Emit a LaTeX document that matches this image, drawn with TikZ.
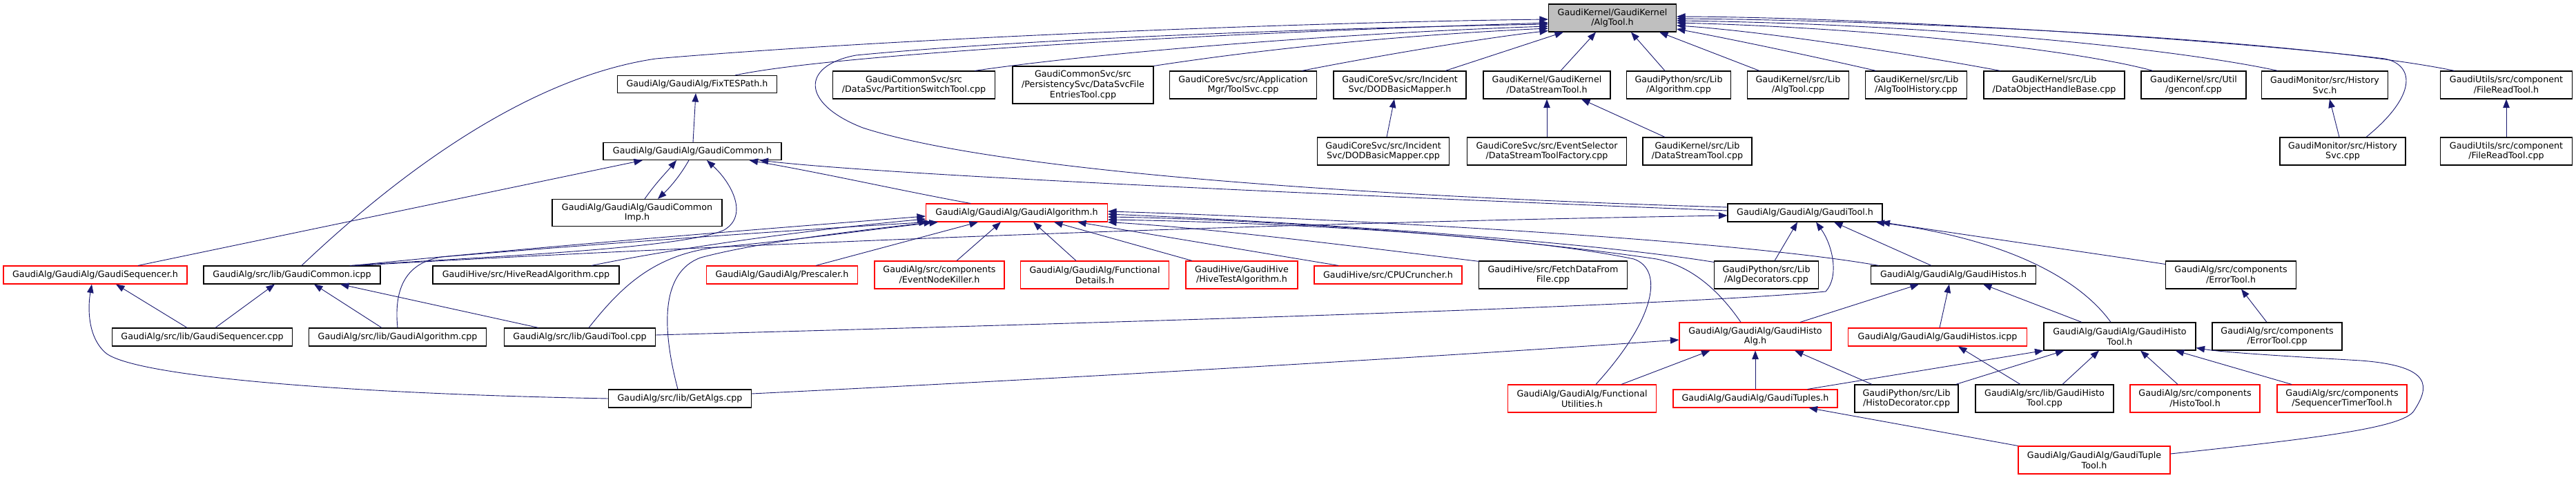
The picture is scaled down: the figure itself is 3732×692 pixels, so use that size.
\documentclass[tikz,border=0pt]{standalone}
\usepackage{fontspec}
\setmainfont{DejaVu Sans}
\usetikzlibrary{arrows.meta,calc}
\definecolor{eb}{HTML}{191970}
\definecolor{rootfill}{HTML}{BFBFBF}
\newcommand{\dgfont}{\fontsize{12.7}{14.7}\selectfont}
\begin{document}
\begin{tikzpicture}[x=1pt,y=-1pt,
 box/.style={draw=black,line width=1.1pt,fill=white,inner sep=0pt,align=center,font=\dgfont,minimum height=26pt},
 rbox/.style={box,draw=red},
 tall/.style={minimum height=40pt},
 e/.style={draw=eb,line width=0.9pt,-{Triangle[length=12.5pt,width=9.5pt]}}]
\useasboundingbox (0,0) rectangle (3732,692);
% ---------- nodes ----------
\node[box,tall,minimum width=185pt,fill=rootfill] (root) at (2336,26) {GaudiKernel/GaudiKernel\\/AlgTool.h};
% row 2
\node[box,minimum width=231pt,minimum height=25pt] (fix) at (1010,122) {GaudiAlg/GaudiAlg/FixTESPath.h};
\node[box,tall,minimum width=235pt] (pst) at (1324,123) {GaudiCommonSvc/src\\/DataSvc/PartitionSwitchTool.cpp};
\node[box,minimum width=204pt,minimum height=54pt] (dsfe) at (1569,123) {GaudiCommonSvc/src\\/PersistencySvc/DataSvcFile\\EntriesTool.cpp};
\node[box,tall,minimum width=213pt] (toolsvc) at (1801,123) {GaudiCoreSvc/src/Application\\Mgr/ToolSvc.cpp};
\node[box,tall,minimum width=192pt] (dodh) at (2028,123) {GaudiCoreSvc/src/Incident\\Svc/DODBasicMapper.h};
\node[box,tall,minimum width=184pt] (dsth) at (2241,123) {GaudiKernel/GaudiKernel\\/DataStreamTool.h};
\node[box,tall,minimum width=151pt] (algcpp) at (2432,123) {GaudiPython/src/Lib\\/Algorithm.cpp};
\node[box,tall,minimum width=147pt] (algtoolcpp) at (2605,123) {GaudiKernel/src/Lib\\/AlgTool.cpp};
\node[box,tall,minimum width=147pt] (athist) at (2776,123) {GaudiKernel/src/Lib\\/AlgToolHistory.cpp};
\node[box,tall,minimum width=204pt] (dohb) at (2976,123) {GaudiKernel/src/Lib\\/DataObjectHandleBase.cpp};
\node[box,tall,minimum width=152pt] (genconf) at (3178,123) {GaudiKernel/src/Util\\/genconf.cpp};
\node[box,tall,minimum width=183pt] (hsh) at (3368,123) {GaudiMonitor/src/History\\Svc.h};
\node[box,tall,minimum width=191pt] (frth) at (3631,123) {GaudiUtils/src/component\\/FileReadTool.h};
% row 3
\node[box,minimum width=258pt,minimum height=25pt] (gch) at (1003,219) {GaudiAlg/GaudiAlg/GaudiCommon.h};
\node[box,tall,minimum width=191pt] (dodcpp) at (2004,219) {GaudiCoreSvc/src/Incident\\Svc/DODBasicMapper.cpp};
\node[box,tall,minimum width=231pt] (dstf) at (2241,219) {GaudiCoreSvc/src/EventSelector\\/DataStreamToolFactory.cpp};
\node[box,tall,minimum width=158pt] (dstcpp) at (2459,219) {GaudiKernel/src/Lib\\/DataStreamTool.cpp};
\node[box,tall,minimum width=182pt] (hscpp) at (3394,219) {GaudiMonitor/src/History\\Svc.cpp};
\node[box,tall,minimum width=191pt] (frtcpp) at (3631,219) {GaudiUtils/src/component\\/FileReadTool.cpp};
% row 4
\node[box,minimum width=246pt,minimum height=39pt] (gcimp) at (923,308) {GaudiAlg/GaudiAlg/GaudiCommon\\Imp.h};
\node[rbox,minimum width=263pt] (galgh) at (1473,308) {GaudiAlg/GaudiAlg/GaudiAlgorithm.h};
\node[box,minimum width=224pt] (gtoolh) at (2615,308) {GaudiAlg/GaudiAlg/GaudiTool.h};
% row 5
\node[rbox,minimum width=266pt] (gseqh) at (138,398) {GaudiAlg/GaudiAlg/GaudiSequencer.h};
\node[box,minimum width=256pt] (gcicpp) at (423,398) {GaudiAlg/src/lib/GaudiCommon.icpp};
\node[box,minimum width=270pt] (hiveread) at (762,398) {GaudiHive/src/HiveReadAlgorithm.cpp};
\node[rbox,minimum width=219pt] (prescaler) at (1133,398) {GaudiAlg/GaudiAlg/Prescaler.h};
\node[rbox,tall,minimum width=188pt] (enk) at (1361,398) {GaudiAlg/src/components\\/EventNodeKiller.h};
\node[rbox,tall,minimum width=215pt] (fdet) at (1586,398) {GaudiAlg/GaudiAlg/Functional\\Details.h};
\node[rbox,tall,minimum width=162pt] (hivetest) at (1799,398) {GaudiHive/GaudiHive\\/HiveTestAlgorithm.h};
\node[rbox,minimum width=214pt] (cpu) at (2011,398) {GaudiHive/src/CPUCruncher.h};
\node[box,tall,minimum width=215pt] (fetch) at (2250,398) {GaudiHive/src/FetchDataFrom\\File.cpp};
\node[box,tall,minimum width=151pt] (algdec) at (2559,398) {GaudiPython/src/Lib\\/AlgDecorators.cpp};
\node[box,minimum width=239pt] (ghistosh) at (2830,398) {GaudiAlg/GaudiAlg/GaudiHistos.h};
\node[box,tall,minimum width=189pt] (errh) at (3232,398) {GaudiAlg/src/components\\/ErrorTool.h};
% row 6
\node[box,minimum width=261pt] (gseqcpp) at (293,488) {GaudiAlg/src/lib/GaudiSequencer.cpp};
\node[box,minimum width=257pt] (galgcpp) at (576,488) {GaudiAlg/src/lib/GaudiAlgorithm.cpp};
\node[box,minimum width=219pt] (gtoolcpp) at (840,488) {GaudiAlg/src/lib/GaudiTool.cpp};
\node[rbox,tall,minimum width=220pt] (ghistoalg) at (2543,487) {GaudiAlg/GaudiAlg/GaudiHisto\\Alg.h};
\node[rbox,minimum width=259pt] (ghistosicpp) at (2807,488) {GaudiAlg/GaudiAlg/GaudiHistos.icpp};
\node[box,tall,minimum width=220pt] (ghistotoolh) at (3071,487) {GaudiAlg/GaudiAlg/GaudiHisto\\Tool.h};
\node[box,tall,minimum width=188pt] (errcpp) at (3299,487) {GaudiAlg/src/components\\/ErrorTool.cpp};
% row 7
\node[box,minimum width=207pt] (getalgs) at (985,577) {GaudiAlg/src/lib/GetAlgs.cpp};
\node[rbox,tall,minimum width=215pt] (futil) at (2292,577) {GaudiAlg/GaudiAlg/Functional\\Utilities.h};
\node[rbox,minimum width=238pt] (gtuples) at (2543,577) {GaudiAlg/GaudiAlg/GaudiTuples.h};
\node[box,tall,minimum width=150pt] (histodec) at (2762,577) {GaudiPython/src/Lib\\/HistoDecorator.cpp};
\node[box,tall,minimum width=200pt] (ghtcpp) at (2962,577) {GaudiAlg/src/lib/GaudiHisto\\Tool.cpp};
\node[rbox,tall,minimum width=188pt] (histotool) at (3180,577) {GaudiAlg/src/components\\/HistoTool.h};
\node[rbox,tall,minimum width=188pt] (seqtimer) at (3393,577) {GaudiAlg/src/components\\/SequencerTimerTool.h};
% row 8
\node[rbox,tall,minimum width=220pt] (gtupletool) at (3034,666) {GaudiAlg/GaudiAlg/GaudiTuple\\Tool.h};
% ---------- edges into root ----------
\draw[e] ($(gcicpp.north)+(14,0)$) .. controls (600,230) and (780,110) .. (950,85) .. controls (1300,55) and (1900,32) .. ($(root.west)+(0,2)$);
\draw[e] ($(fix.north)+(55,0)$) .. controls (1200,80) and (1700,50) .. ($(root.west)+(0,7)$);
\draw[e] ($(gtoolh.west)+(0,-8)$) .. controls (2000,285) and (1450,250) .. (1250,185) .. controls (1160,150) and (1160,95) .. (1240,80) .. controls (1500,55) and (1950,40) .. ($(root.west)+(0,9)$);
\draw[e] ($(pst.north)+(88,0)$) .. controls (1600,75) and (1950,48) .. ($(root.west)+(0,12)$);
\draw[e] (dsfe.north east) .. controls (1850,68) and (2050,50) .. ($(root.west)+(0,15)$);
\draw[e] ($(toolsvc.north)+(85,0)$) .. controls (2000,80) and (2150,55) .. ($(root.south west)+(0,-2)$);
\draw[e] ($(dodh.north)+(66,0)$) -- ($(root.south west)+(22,0)$);
\draw[e] ($(dsth.north)+(20,0)$) -- ($(root.south)+(-24,0)$);
\draw[e] ($(algcpp.north)+(-20,0)$) -- ($(root.south)+(27,0)$);
\draw[e] ($(algtoolcpp.north)+(-56,0)$) -- ($(root.south east)+(-25,0)$);
\draw[e] ($(athist.north)+(-58,0)$) .. controls (2620,80) and (2500,55) .. ($(root.east)+(0,16)$);
\draw[e] ($(dohb.north)+(-78,0)$) .. controls (2750,75) and (2550,45) .. ($(root.east)+(0,11)$);
\draw[e] ($(genconf.north)+(-59,0)$) .. controls (3000,70) and (2700,40) .. ($(root.east)+(0,7)$);
\draw[e] ($(hsh.north)+(-68,0)$) .. controls (3150,70) and (2800,35) .. ($(root.east)+(0,4)$);
\draw[e] ($(frth.north)+(-75,0)$) .. controls (3350,60) and (2800,30) .. ($(root.east)+(0,1)$);
\draw[e] ($(hscpp.north)+(34,0)$) .. controls (3500,140) and (3500,95) .. (3455,85) .. controls (3200,55) and (2700,25) .. ($(root.east)+(0,-2)$);
% ---------- row 3 -> row 2 ----------
\draw[e] ($(dodcpp.north)+(5,0)$) -- ($(dodh.south)+(-8,0)$);
\draw[e] (dstf.north) -- (dsth.south);
\draw[e] ($(dstcpp.north)+(-47,0)$) -- ($(dsth.south)+(50,0)$);
\draw[e] ($(hscpp.north)+(-5,0)$) -- ($(hsh.south)+(7,0)$);
\draw[e] (frtcpp.north) -- (frth.south);
% ---------- GaudiCommon ----------
\draw[e] ($(gch.north)+(1,0)$) -- ($(fix.south)+(-2,0)$);
\draw[e] ($(gcimp.north)+(11,0)$) .. controls (950,265) and (965,250) .. ($(gch.south)+(-23,0)$);
\draw[e] ($(gch.south)+(-5,0)$) .. controls (985,255) and (970,272) .. ($(gcimp.north)+(30,0)$);
\draw[e] ($(gseqh.north)+(62,0)$) -- ($(gch.south)+(-72,0)$);
\draw[e] ($(galgh.north)+(-67,0)$) .. controls (1300,275) and (1200,252) .. ($(gch.south east)+(-47,0)$);
\draw[e] ($(gtoolh.west)+(0,-3)$) .. controls (2000,285) and (1300,255) .. ($(gch.south east)+(-32,0)$);
\draw[e] ($(gcicpp.north east)+(-45,0)$) .. controls (700,372) and (990,360) .. (1049,333) .. controls (1085,312) and (1060,265) .. ($(gch.south)+(21,0)$);
% ---------- into GaudiAlgorithm.h ----------
\draw[e] ($(gcicpp.north east)+(-40,0)$) .. controls (800,355) and (1150,328) .. ($(galgh.west)+(0,5)$);
\draw[e] ($(hiveread.north)+(95,0)$) .. controls (1000,355) and (1200,330) .. ($(galgh.west)+(0,9)$);
\draw[e] (galgcpp.north) .. controls (570,415) and (590,380) .. (640,372) .. controls (900,350) and (1200,330) .. ($(galgh.south west)+(3,0)$);
\draw[e] ($(getalgs.north)+(-3,0)$) .. controls (960,480) and (955,395) .. (1015,373) .. controls (1100,350) and (1250,333) .. ($(galgh.south west)+(10,0)$);
\draw[e] ($(gtoolcpp.north)+(13,0)$) .. controls (900,415) and (950,365) .. (1049,357) .. controls (1150,348) and (1280,330) .. ($(galgh.south west)+(18,0)$);
\draw[e] ($(prescaler.north)+(49,0)$) -- ($(galgh.south west)+(76,0)$);
\draw[e] ($(enk.north)+(25,0)$) -- ($(galgh.south west)+(109,0)$);
\draw[e] ($(fdet.north)+(-27,0)$) -- ($(galgh.south)+(24,0)$);
\draw[e] ($(hivetest.north)+(-72,0)$) -- ($(galgh.south)+(54,0)$);
\draw[e] ($(cpu.north)+(-72,0)$) -- ($(galgh.south east)+(-44,0)$);
\draw[e] ($(fetch.north west)+(1,1)$) .. controls (1950,355) and (1750,330) .. (galgh.south east);
\draw[e] ($(futil.north)+(20,0)$) .. controls (2400,460) and (2410,390) .. (2367,375) .. controls (2200,340) and (1850,322) .. ($(galgh.east)+(0,10)$);
\draw[e] ($(ghistoalg.north)+(-21,0)$) .. controls (2490,420) and (2450,385) .. (2400,375) .. controls (2200,345) and (1850,318) .. ($(galgh.east)+(0,6)$);
\draw[e] ($(algdec.north west)+(0,2)$) .. controls (2300,350) and (1900,322) .. ($(galgh.east)+(0,2)$);
\draw[e] ($(ghistosh.north west)+(12,0)$) .. controls (2500,345) and (1900,315) .. ($(galgh.east)+(0,-2)$);
% ---------- into GaudiTool.h ----------
\draw[e] ($(gcicpp.north east)+(-35,0)$) .. controls (900,362) and (1700,325) .. ($(gtoolh.west)+(0,4)$);
\draw[e] ($(algdec.north)+(12,0)$) -- ($(gtoolh.south)+(-11,0)$);
\draw[e] ($(gtoolcpp.east)+(0,-3)$) .. controls (1500,470) and (2400,445) .. (2645,422) .. controls (2665,400) and (2655,355) .. ($(gtoolh.south)+(16,0)$);
\draw[e] ($(ghistosh.north)+(-32,0)$) -- ($(gtoolh.south)+(42,0)$);
\draw[e] ($(ghistotoolh.north)+(-13,0)$) .. controls (3010,400) and (2900,345) .. ($(gtoolh.south east)+(-10,0)$);
\draw[e] ($(errh.north west)+(0,5)$) .. controls (3000,362) and (2800,333) .. ($(gtoolh.south east)+(-2,0)$);
% ---------- GaudiSequencer.h / GaudiCommon.icpp ----------
\draw[e] ($(gseqcpp.north)+(-22,0)$) -- ($(gseqh.south)+(30,0)$);
\draw[e] (getalgs.west) .. controls (500,570) and (190,545) .. (152,510) .. controls (125,485) and (128,440) .. ($(gseqh.south)+(-5,0)$);
\draw[e] ($(gseqcpp.north)+(19,0)$) -- ($(gcicpp.south)+(-25,0)$);
\draw[e] ($(galgcpp.north)+(-23,0)$) -- ($(gcicpp.south)+(32,0)$);
\draw[e] ($(gtoolcpp.north)+(-60,0)$) -- ($(gcicpp.south)+(70,0)$);
% ---------- histo family ----------
\draw[e] ($(getalgs.east)+(0,-7)$) .. controls (1600,545) and (2100,515) .. ($(ghistoalg.west)+(0,5)$);
\draw[e] ($(futil.north)+(57,0)$) -- ($(ghistoalg.south west)+(45,0)$);
\draw[e] (gtuples.north) -- (ghistoalg.south);
\draw[e] ($(histodec.north)+(-50,0)$) -- ($(ghistoalg.south)+(57,0)$);
\draw[e] ($(ghistoalg.north)+(65,0)$) -- ($(ghistosh.south)+(-50,0)$);
\draw[e] ($(ghistosicpp.north)+(3,0)$) -- ($(ghistosh.south)+(-6,0)$);
\draw[e] ($(ghistotoolh.north)+(-55,0)$) -- ($(ghistosh.south)+(43,0)$);
\draw[e] ($(ghtcpp.north)+(-35,0)$) -- ($(ghistosicpp.south)+(30,0)$);
\draw[e] ($(gtuples.north east)+(-44,0)$) -- (ghistotoolh.south west);
\draw[e] ($(histodec.north east)+(-4,0)$) -- ($(ghistotoolh.south west)+(30,0)$);
\draw[e] ($(ghtcpp.north)+(26,0)$) -- ($(ghistotoolh.south)+(-30,0)$);
\draw[e] ($(histotool.north)+(-25,0)$) -- ($(ghistotoolh.south)+(30,0)$);
\draw[e] ($(seqtimer.north)+(-73,0)$) -- ($(ghistotoolh.south east)+(-30,0)$);
\draw[e] ($(gtupletool.east)+(0,-9)$) .. controls (3350,635) and (3480,620) .. (3497,595) .. controls (3520,560) and (3525,530) .. (3420,522) .. controls (3300,515) and (3220,510) .. ($(ghistotoolh.south east)+(0,-4)$);
\draw[e] (gtupletool.north west) -- ($(gtuples.south east)+(-42,0)$);
\draw[e] ($(errcpp.north)+(-15,0)$) -- ($(errh.south)+(15,0)$);
\end{tikzpicture}
\end{document}
